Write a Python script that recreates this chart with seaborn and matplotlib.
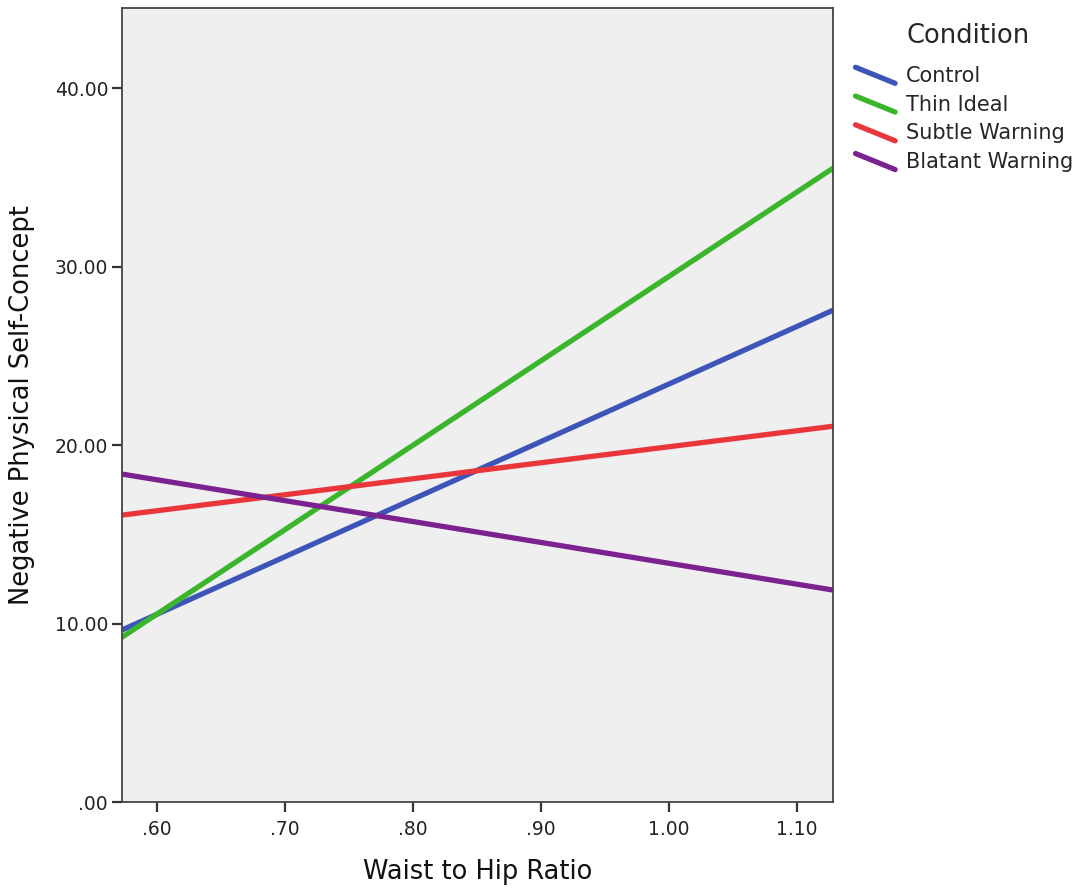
import matplotlib
matplotlib.use("Agg")
import matplotlib.pyplot as plt
import seaborn as sns
import pandas as pd
from matplotlib.lines import Line2D
from matplotlib.legend_handler import HandlerLine2D
from matplotlib.ticker import FuncFormatter

# fitted lines, value at the left and right edges of the plot
conditions = ["Control", "Thin Ideal", "Subtle Warning", "Blatant Warning"]
x_ends = [0.5727, 1.128]
control = [9.64, 27.56]
thin_ideal = [9.24, 35.52]
subtle_warning = [16.08, 21.06]
blatant_warning = [18.38, 11.88]
palette = ["#3d55b8", "#3bb52c", "#e8363a", "#7b2190"]

rows = []
for name, ys in zip(conditions, [control, thin_ideal, subtle_warning, blatant_warning]):
    for x, y in zip(x_ends, ys):
        rows.append({"Waist to Hip Ratio": x, "Negative Physical Self-Concept": y, "Condition": name})
df = pd.DataFrame(rows)


class SlantHandler(HandlerLine2D):
    # SPSS style legend keys: short diagonal strokes
    def create_artists(self, legend, orig_handle, xdescent, ydescent, width, height, fontsize, trans):
        line = Line2D([-xdescent, -xdescent + width], [height * 1.0, -ydescent - height * 0.1])
        self.update_prop(line, orig_handle, legend)
        line.set_transform(trans)
        return [line]


sns.set_style("white")
plt.rcParams['font.family'] = ['DejaVu Sans']

fig = plt.figure(figsize=(10.91, 8.88), dpi=100)
ax = fig.add_axes([0.1118, 0.0968, 0.6517, 0.8942])
sns.lineplot(data=df, x="Waist to Hip Ratio", y="Negative Physical Self-Concept",
             hue="Condition", hue_order=conditions, palette=palette,
             linewidth=3.8, ax=ax, legend=False)

ax.set_facecolor("#efefef")
ax.set_xlim(x_ends[0], x_ends[1])
ax.set_ylim(0, 44.5)
ax.set_xticks([0.6, 0.7, 0.8, 0.9, 1.0, 1.1])
ax.set_yticks([0, 10, 20, 30, 40])
fmt = FuncFormatter(lambda v, p: f"{v:.2f}".lstrip("0") if v < 1 else f"{v:.2f}")
ax.xaxis.set_major_formatter(fmt)
ax.yaxis.set_major_formatter(fmt)
for s in ax.spines.values():
    s.set_color("#444444")
    s.set_linewidth(1.3)
ax.tick_params(axis="both", bottom=True, left=True, direction="out", length=7, width=1.6,
               color="#333333", labelsize=13.5, labelcolor="#222222", pad=3)
ax.tick_params(axis="x", pad=6)
ax.set_xlabel("Waist to Hip Ratio", fontsize=18.5, labelpad=14, color="#111111")
ax.set_ylabel("Negative Physical Self-Concept", fontsize=18.5, labelpad=14, color="#111111")

handles = [Line2D([], [], color=c, linewidth=3.8) for c in palette]
leg = fig.legend(handles, conditions, title="Condition", loc="upper left",
                 bbox_to_anchor=(0.767, 0.995), frameon=False, fontsize=15,
                 title_fontsize=18.5, handlelength=1.9, handletextpad=0.5,
                 labelspacing=0.42, handler_map={Line2D: SlantHandler()})
leg._legend_box.align = "left"
leg._legend_box.sep = 12
leg.get_title().set_position((51, 0))

fig.savefig("out.png", dpi=100)
